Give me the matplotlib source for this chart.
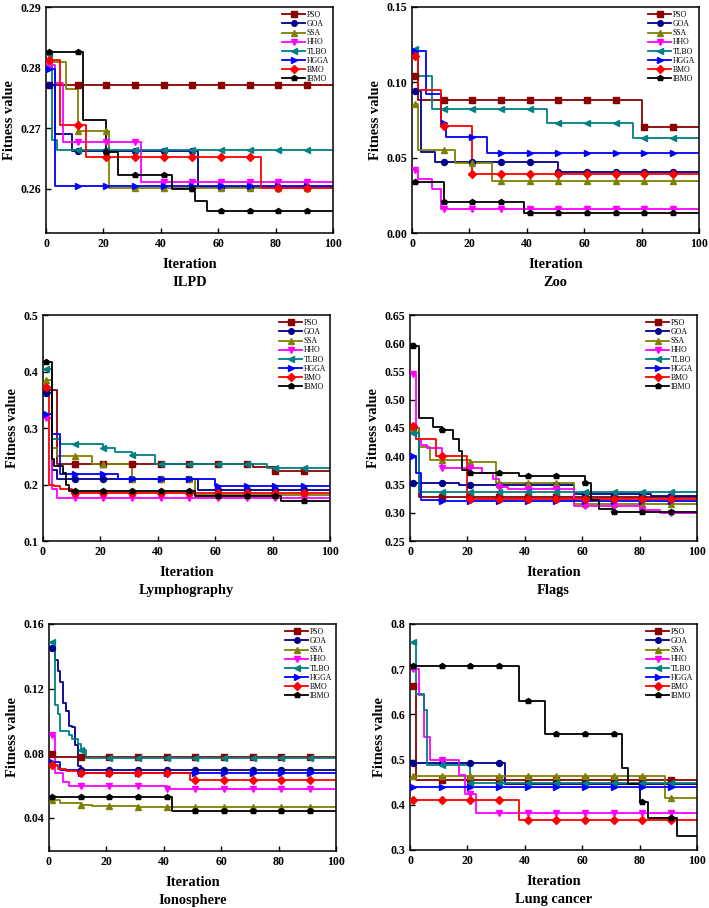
"""
Convergence curves of eight optimisers on six datasets (fitness vs iteration).
"""

import numpy as np
import matplotlib
matplotlib.use("Agg")
import matplotlib.pyplot as plt
from matplotlib.lines import Line2D

plt.rcParams["font.family"] = ["Liberation Serif", "DejaVu Serif"]

# ── DATA: step curves as (start iteration, value) change points ─────
ALGOS = ["PSO", "GOA", "SSA", "HHO", "TLBO", "HGGA", "BMO", "IBMO"]
COLORS = ["#8B0000", "#00008B", "#808000", "#FF00FF", "#008080", "#0000FF", "#FF0000", "#000000"]
MARKERS = ["s", "o", "^", "v", "<", ">", "D", "p"]

ilpd_x = [[1], [1, 3, 9, 53], [1, 7, 11, 22], [1, 3, 6, 33], [1, 2, 4], [1, 3], [1, 5, 14, 75],
          [1, 13, 21, 25, 44, 52, 56]]
ilpd_y = [[0.2771], [0.2772, 0.2690, 0.2663, 0.2603], [0.2810, 0.2764, 0.2696, 0.2601],
          [0.2805, 0.2775, 0.2678, 0.2611], [0.2822, 0.2680, 0.2664], [0.2797, 0.2604],
          [0.2813, 0.2706, 0.2652, 0.2601], [0.2826, 0.2713, 0.2661, 0.2623, 0.2600, 0.2580, 0.2563]]

zoo_x = [[1, 2, 80], [1, 3, 8, 51], [1, 2, 15, 28], [1, 2, 7, 10], [1, 2, 7, 47, 77], [1, 5, 10, 12, 26],
         [1, 2, 10, 21], [1, 11, 39]]
zoo_y = [[0.1045, 0.0880, 0.0705], [0.0945, 0.0540, 0.0472, 0.0405], [0.0855, 0.0550, 0.0462, 0.0345],
         [0.0420, 0.0360, 0.0290, 0.0162], [0.1220, 0.1040, 0.0820, 0.0730, 0.0630],
         [0.1210, 0.0920, 0.0730, 0.0640, 0.0532], [0.1175, 0.0950, 0.0710, 0.0390], [0.0340, 0.0208, 0.0135]]

lymph_x = [[1, 5, 73, 81], [1, 3, 5, 54], [1, 3, 5, 17, 31, 53], [1, 3, 5], [1, 3, 6, 21, 25, 31, 39, 78],
           [1, 3, 6, 26, 60], [1, 2, 4, 6, 10], [1, 3, 4, 7, 8, 9, 53, 83]]
lymph_y = [[0.367, 0.236, 0.231, 0.224], [0.362, 0.225, 0.209, 0.190], [0.385, 0.265, 0.251, 0.236, 0.209, 0.182],
           [0.318, 0.192, 0.176], [0.405, 0.280, 0.272, 0.265, 0.258, 0.252, 0.236, 0.230],
           [0.325, 0.290, 0.219, 0.210, 0.197], [0.372, 0.200, 0.197, 0.192, 0.185],
           [0.416, 0.245, 0.232, 0.220, 0.200, 0.188, 0.179, 0.170]]

flags_x = [[1, 3], [1, 17, 57, 84], [1, 3, 7, 21, 30, 57], [1, 2, 4, 6, 11, 25, 29, 31, 34, 57, 80, 87], [1, 3],
           [1, 2, 4, 10], [1, 2, 9, 20], [1, 3, 8, 11, 15, 17, 18, 21, 38, 61, 63, 66, 71]]
flags_y = [[0.450, 0.328], [0.352, 0.349, 0.334, 0.329], [0.450, 0.416, 0.393, 0.389, 0.352, 0.315],
           [0.545, 0.430, 0.420, 0.415, 0.380, 0.370, 0.360, 0.345, 0.342, 0.312, 0.305, 0.300],
           [0.442, 0.337], [0.401, 0.370, 0.323, 0.320], [0.454, 0.431, 0.400, 0.324],
           [0.596, 0.467, 0.452, 0.447, 0.430, 0.410, 0.375, 0.371, 0.365, 0.353, 0.323, 0.307, 0.302]]

iono_x = [[1, 2], [1, 2, 3, 4, 5, 6, 7, 8, 9, 10, 11], [1, 4, 11, 15, 31], [1, 2, 5, 7, 41],
          [1, 2, 3, 4, 7, 8, 10, 11, 13], [1, 4, 10], [1, 3, 6, 11, 49], [1, 43]]
iono_y = [[0.0794, 0.0778], [0.145, 0.138, 0.131, 0.124, 0.111, 0.106, 0.097, 0.096, 0.085, 0.072, 0.0697],
          [0.0510, 0.0490, 0.0482, 0.0475, 0.0465], [0.0915, 0.0675, 0.0625, 0.0600, 0.0578],
          [0.149, 0.110, 0.104, 0.094, 0.091, 0.089, 0.086, 0.082, 0.077], [0.0745, 0.0695, 0.0675],
          [0.0725, 0.0705, 0.0690, 0.0675, 0.0632], [0.0528, 0.0444]]

lung_x = [[1, 2], [1, 33], [1, 89], [1, 3, 5, 7, 17, 19, 23], [1, 2, 5, 6, 21], [1], [1, 38],
          [1, 38, 47, 74, 76, 80, 83, 93]]
lung_y = [[0.663, 0.455], [0.492, 0.446], [0.463, 0.415], [0.700, 0.644, 0.550, 0.500, 0.466, 0.424, 0.382],
          [0.760, 0.645, 0.610, 0.487, 0.448], [0.439], [0.411, 0.367],
          [0.708, 0.630, 0.557, 0.481, 0.446, 0.407, 0.370, 0.332]]

DATASETS = ["ILPD", "Zoo", "Lymphography", "Flags", "Ionosphere", "Lung cancer"]
X_POINTS = [ilpd_x, zoo_x, lymph_x, flags_x, iono_x, lung_x]
Y_POINTS = [ilpd_y, zoo_y, lymph_y, flags_y, iono_y, lung_y]
YLIMS = [(0.2527, 0.29), (0.0, 0.15), (0.1, 0.5), (0.25, 0.65), (0.0195, 0.16), (0.3, 0.8)]
YTICKS = [[0.26, 0.27, 0.28, 0.29], [0.0, 0.05, 0.10, 0.15], [0.1, 0.2, 0.3, 0.4, 0.5],
          [0.25, 0.30, 0.35, 0.40, 0.45, 0.50, 0.55, 0.60, 0.65], [0.04, 0.08, 0.12, 0.16],
          [0.3, 0.4, 0.5, 0.6, 0.7, 0.8]]
YFMT = ["{:.2f}", "{:.2f}", "{:.1f}", "{:.2f}", "{:.2f}", "{:.1f}"]
MAX_ITER = 100
MARK_AT = np.arange(1, MAX_ITER, 10)

# axes boxes in pixels: left, right, top, bottom
W, H = 709, 908
BOXES = [(46, 333, 7, 233), (412, 699, 7, 233), (43, 330, 315, 541),
         (410, 697, 315, 541), (49, 336, 624, 851), (410, 697, 624, 850)]


def draw_panel(ax, xs_list, ys_list, ylim, yticks, yfmt, name):
    for xs, ys, c, m in zip(xs_list, ys_list, COLORS, MARKERS):
        xs_full = list(xs) + [MAX_ITER]
        ys_full = list(ys) + [ys[-1]]
        ax.step(xs_full, ys_full, where="post", color=c, lw=1.3, zorder=2)
        idx = np.searchsorted(xs, MARK_AT, side="right") - 1
        ax.plot(MARK_AT, np.asarray(ys)[idx], ls="none", marker=m, color=c, ms=4.3, zorder=3)

    ax.set_xlim(0, MAX_ITER)
    ax.set_ylim(*ylim)
    ax.set_xticks([0, 20, 40, 60, 80, 100])
    ax.set_yticks(yticks)
    ax.set_yticklabels([yfmt.format(v) for v in yticks])
    ax.tick_params(direction="in", length=3.5, width=1.0, labelsize=8.6, pad=3.5)
    for lab in ax.get_xticklabels() + ax.get_yticklabels():
        lab.set_fontweight("bold")
    for s in ax.spines.values():
        s.set_linewidth(1.1)
    ax.set_xlabel(f"Iteration\n{name}", fontsize=10.4, fontweight="bold", linespacing=1.45, labelpad=6)
    ax.set_ylabel("Fitness value", fontsize=10.4, fontweight="bold", labelpad=3)

    handles = [Line2D([0], [0], color=c, marker=m, lw=1.3, ms=4.0) for c, m in zip(COLORS, MARKERS)]
    ax.legend(handles, ALGOS, loc="upper right", frameon=False, fontsize=5.6, handlelength=3.0,
              handletextpad=0.2, labelspacing=0.15, borderaxespad=0.3, borderpad=0.2,
              bbox_to_anchor=(1.0, 1.0))


def main():
    fig = plt.figure(figsize=(W / 100, H / 100), dpi=100)
    for i, (l, r, t, b) in enumerate(BOXES):
        ax = fig.add_axes([l / W, 1 - b / H, (r - l) / W, (b - t) / H])
        draw_panel(ax, X_POINTS[i], Y_POINTS[i], YLIMS[i], YTICKS[i], YFMT[i], DATASETS[i])
    fig.savefig("out.png", dpi=100)
    plt.close(fig)


if __name__ == "__main__":
    main()
